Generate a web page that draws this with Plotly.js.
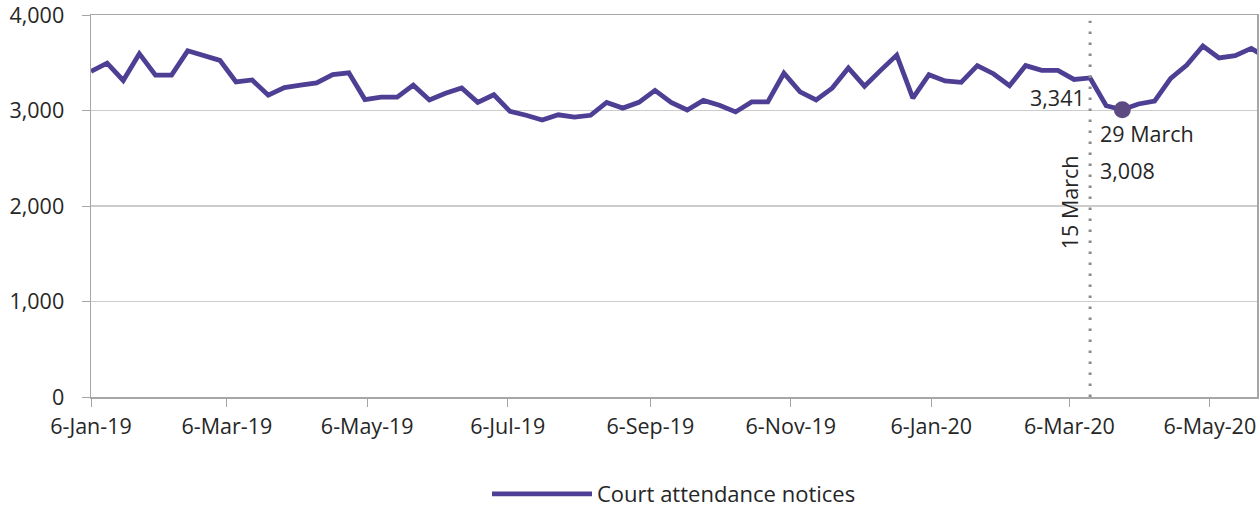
<!DOCTYPE html>
<html>
<head>
<meta charset="utf-8">
<script src="https://cdn.plot.ly/plotly-3.0.1.min.js"></script>
<style>
  html, body { margin: 0; padding: 0; background: #ffffff; }
  #chart { width: 1260px; height: 509px; }
</style>
</head>
<body>
<div id="chart"></div>
<script>
// Week-starting dates (Sundays)
const weeks = [
  '2019-01-06','2019-01-13','2019-01-20','2019-01-27','2019-02-03','2019-02-10','2019-02-17','2019-02-24',
  '2019-03-03','2019-03-10','2019-03-17','2019-03-24','2019-03-31','2019-04-07','2019-04-14','2019-04-21',
  '2019-04-28','2019-05-05','2019-05-12','2019-05-19','2019-05-26','2019-06-02','2019-06-09','2019-06-16',
  '2019-06-23','2019-06-30','2019-07-07','2019-07-14','2019-07-21','2019-07-28','2019-08-04','2019-08-11',
  '2019-08-18','2019-08-25','2019-09-01','2019-09-08','2019-09-15','2019-09-22','2019-09-29','2019-10-06',
  '2019-10-13','2019-10-20','2019-10-27','2019-11-03','2019-11-10','2019-11-17','2019-11-24','2019-12-01',
  '2019-12-08','2019-12-15','2019-12-22','2019-12-29','2020-01-05','2020-01-12','2020-01-19','2020-01-26',
  '2020-02-02','2020-02-09','2020-02-16','2020-02-23','2020-03-01','2020-03-08','2020-03-15','2020-03-22',
  '2020-03-29','2020-04-05','2020-04-12','2020-04-19','2020-04-26','2020-05-03','2020-05-10','2020-05-17',
  '2020-05-24','2020-05-31'
];

// Court attendance notices per week
const notices = [
  3410, 3495, 3315, 3595, 3370, 3370, 3625, 3580,
  3525, 3300, 3320, 3160, 3240, 3265, 3290, 3375,
  3395, 3115, 3140, 3140, 3265, 3110, 3180, 3235,
  3085, 3165, 2990, 2950, 2900, 2955, 2930, 2950,
  3085, 3025, 3085, 3210, 3085, 3005, 3105, 3055,
  2985, 3090, 3090, 3390, 3195, 3110, 3235, 3445,
  3255, 3420, 3580, 3130, 3375, 3310, 3295, 3470,
  3385, 3260, 3470, 3420, 3420, 3325, 3341, 3050,
  3008, 3068, 3099, 3337, 3476, 3675, 3550, 3575,
  3650, 3550
];

// Axis ticks
const xTickVals = ['2019-01-06','2019-03-06','2019-05-06','2019-07-06','2019-09-06','2019-11-06','2020-01-06','2020-03-06','2020-05-06'];
const xTickText = ['6-Jan-19','6-Mar-19','6-May-19','6-Jul-19','6-Sep-19','6-Nov-19','6-Jan-20','6-Mar-20','6-May-20'];
const yTickVals = [0, 1000, 2000, 3000, 4000];
const yTickText = ['0','1,000','2,000','3,000','4,000'];

// Highlighted events
const eventDate = '2020-03-15';
const eventValue = 3341;
const lowDate = '2020-03-29';
const lowValue = 3008;

const FONT = '"Open Sans", "Noto Sans", sans-serif';
const TXT = '#262626';
const FS = 21.5;

const traces = [
  {
    type: 'scatter', mode: 'lines', name: 'Court attendance notices',
    x: weeks, y: notices,
    line: { color: '#4e3f94', width: 4.8 },
    hoverinfo: 'x+y'
  },
  {
    type: 'scatter', mode: 'markers', showlegend: false,
    x: [lowDate], y: [lowValue],
    marker: { color: '#5e4a82', size: 17 },
    hoverinfo: 'x+y'
  }
];

const layout = {
  width: 1260, height: 509,
  margin: { l: 91, r: 3, t: 15, b: 112, autoexpand: false },
  paper_bgcolor: '#ffffff', plot_bgcolor: '#ffffff',
  font: { family: FONT, size: FS, color: TXT },
  showlegend: true,
  legend: {
    orientation: 'h', x: 0.5, xanchor: 'center',
    yref: 'container', y: 0.0295, yanchor: 'middle',
    itemwidth: 100, font: { family: FONT, size: 22, color: TXT }
  },
  xaxis: {
    type: 'date',
    range: ['2019-01-06', '2020-05-26 12:00'],
    tickmode: 'array', tickvals: xTickVals, ticktext: xTickText,
    ticks: 'outside', ticklen: 8, tickcolor: '#a6a6a6', tickwidth: 1,
    ticklabelstandoff: 2, ticklabeloverflow: 'allow',
    showline: true, linecolor: '#a6a6a6', linewidth: 1.5, mirror: true,
    showgrid: false, zeroline: false, automargin: false,
    tickfont: { family: FONT, size: FS, color: TXT }
  },
  yaxis: {
    range: [0, 4000],
    tickmode: 'array', tickvals: yTickVals, ticktext: yTickText,
    ticks: 'outside', ticklen: 8, tickcolor: '#a6a6a6', tickwidth: 1,
    ticklabelstandoff: 13, ticklabeloverflow: 'allow',
    showline: true, linecolor: '#a6a6a6', linewidth: 1.5, mirror: true,
    showgrid: true, gridcolor: '#cccccc', gridwidth: 1.5, zeroline: false, automargin: false,
    tickfont: { family: FONT, size: FS, color: TXT }
  },
  shapes: [
    {
      type: 'line', xref: 'x', yref: 'paper',
      x0: eventDate, x1: eventDate, y0: 0, y1: 0.985,
      line: { color: '#8c8c8c', width: 3, dash: '2.5px,8.5px' }
    }
  ],
  annotations: [
    {
      xref: 'x', yref: 'y', x: eventDate, y: 2040, text: '15 March',
      textangle: -90, showarrow: false, xanchor: 'center', yanchor: 'middle',
      xshift: -21, font: { family: FONT, size: FS, color: TXT }
    },
    {
      xref: 'x', yref: 'y', x: eventDate, y: 3141, text: '3,341',
      showarrow: false, xanchor: 'right', yanchor: 'middle',
      xshift: -3, font: { family: FONT, size: FS, color: TXT }
    },
    {
      xref: 'x', yref: 'y', x: lowDate, y: 2754, text: '29 March',
      showarrow: false, xanchor: 'left', yanchor: 'middle',
      xshift: -24, font: { family: FONT, size: FS, color: TXT }
    },
    {
      xref: 'x', yref: 'y', x: lowDate, y: 2377, text: '3,008',
      showarrow: false, xanchor: 'left', yanchor: 'middle',
      xshift: -24, font: { family: FONT, size: FS, color: TXT }
    }
  ]
};

Plotly.newPlot('chart', traces, layout, { displayModeBar: false, staticPlot: true });
</script>
</body>
</html>
